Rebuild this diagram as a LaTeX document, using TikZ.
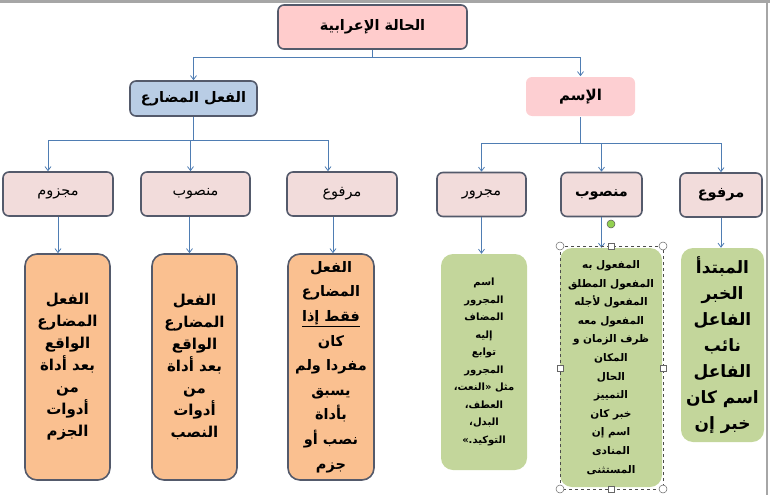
\documentclass[tikz,border=0pt]{standalone}
\usepackage{fontspec}
\setmainfont{DejaVu Sans}
\newfontfamily\ar[Script=Arabic]{DejaVu Sans}
\TeXXeTstate=1
\usetikzlibrary{arrows.meta}
\newcommand\arl[1]{\beginR #1\endR}
\definecolor{topfill}{HTML}{FFCCCC}
\definecolor{bord}{HTML}{545A6B}
\definecolor{bluefill}{HTML}{B9CDE5}
\definecolor{ismfill}{HTML}{FDCFD2}
\definecolor{lvfill}{HTML}{F2DCDB}
\definecolor{orfill}{HTML}{FAC090}
\definecolor{grfill}{HTML}{C3D69B}
\definecolor{conn}{HTML}{4F7DB3}
\definecolor{framecol}{HTML}{A6A6A6}
\definecolor{handlegreen}{HTML}{92D050}
\begin{document}
\begin{tikzpicture}[x=1pt,y=-1pt,
  box/.style={rounded corners=6pt, line width=1.6pt, draw=bord, inner sep=0pt, align=center},
  lvl/.style={box, fill=lvfill, minimum height=44pt, font=\ar\fontsize{14.5}{17}\selectfont},
  lvlb/.style={lvl, font=\ar\bfseries\fontsize{14.5}{17}\selectfont},
  orb/.style={rounded corners=12pt, line width=1.6pt, draw=bord, fill=orfill, inner sep=0pt, align=center, minimum width=85pt, minimum height=226pt},
  grb/.style={rounded corners=12pt, fill=grfill, inner sep=0pt, align=center},
  arr/.style={draw=conn, line width=0.8pt, -{Straight Barb[length=4pt,width=6pt]}},
  ln/.style={draw=conn, line width=0.8pt},
  hcirc/.style={draw=gray!80!black, fill=white, line width=0.5pt},
  hsq/.style={draw=gray!80!black, fill=white, line width=0.5pt}
]
\useasboundingbox (0,0) rectangle (770,495);
\fill[framecol] (0,0) rectangle (770,3.5);
\fill[framecol] (765.5,0) rectangle (768,495);

% top level
\node[box, fill=topfill, minimum width=189pt, minimum height=44pt, font=\ar\bfseries\fontsize{14.5}{18}\selectfont] (top) at (372.5,27) {\arl{الحالة الإعرابية}};
\node[box, fill=bluefill, minimum width=127pt, minimum height=35pt, font=\ar\bfseries\fontsize{14.5}{17}\selectfont] (fiil) at (193.5,98.5) {\arl{الفعل المضارع}};
\node[box, draw=none, fill=ismfill, minimum width=109pt, minimum height=39pt, font=\ar\bfseries\fontsize{15}{17}\selectfont] (ism) at (580.5,96.5) {\arl{الإسم}};

% level 2
\node[lvl, minimum width=110pt] (m1) at (58,194) {\arl{مجزوم}};
\node[lvl, minimum width=109pt] (m2) at (195.5,194) {\arl{منصوب}};
\node[lvl, minimum width=110pt] (m3) at (342,194) {\arl{مرفوع}};
\node[lvl, minimum width=89pt] (r1) at (481.5,194.5) {\arl{مجرور}};
\node[lvlb, minimum width=81pt] (r2) at (601.5,194.5) {\arl{منصوب}};
\node[lvlb, minimum width=82pt] (r3) at (721,195) {\arl{مرفوع}};

% level 3 orange
\node[orb, font=\ar\bfseries\fontsize{15}{22}\selectfont] (o1) at (67.5,367) {\arl{الفعل}\\\arl{المضارع}\\\arl{الواقع}\\\arl{بعد أداة}\\\arl{من}\\\arl{أدوات}\\\arl{الجزم}};
\node[orb, font=\ar\bfseries\fontsize{15}{22}\selectfont] (o2) at (194.5,367) {\arl{الفعل}\\\arl{المضارع}\\\arl{الواقع}\\\arl{بعد أداة}\\\arl{من}\\\arl{أدوات}\\\arl{النصب}};
\node[orb, minimum width=86pt, font=\ar\bfseries\fontsize{14.5}{24.6}\selectfont] (o3) at (331,367) {\arl{الفعل}\\\arl{المضارع}\\\underline{\arl{فقط إذا}}\\\arl{كان}\\\arl{مفردا ولم}\\\arl{يسبق}\\\arl{بأداة}\\\arl{نصب أو}\\\arl{جزم}};

% level 3 green
\node[grb, minimum width=86pt, minimum height=216pt, font=\ar\bfseries\fontsize{10}{17.5}\selectfont] (g1) at (484,362) {\arl{اسم}\\\arl{المجرور}\\\arl{المضاف}\\\arl{إليه}\\\arl{توابع}\\\arl{المجرور}\\\arl{مثل «النعت،}\\\arl{العطف،}\\\arl{البدل،}\\\arl{التوكيد.»}};
\node[grb, minimum width=102pt, minimum height=239pt, font=\ar\bfseries\fontsize{10.5}{18.6}\selectfont] (g2) at (611,367.5) {\arl{المفعول به}\\\arl{المفعول المطلق}\\\arl{المفعول لأجله}\\\arl{المفعول معه}\\\arl{ظرف الزمان و}\\\arl{المكان}\\\arl{الحال}\\\arl{التمييز}\\\arl{خبر كان}\\\arl{اسم إن}\\\arl{المنادى}\\\arl{المستثنى}};
\node[grb, minimum width=83pt, minimum height=194pt, font=\ar\bfseries\fontsize{17}{26}\selectfont] (g3) at (722.5,345) {\arl{المبتدأ}\\\arl{الخبر}\\\arl{الفاعل}\\\arl{نائب}\\\arl{الفاعل}\\\arl{اسم كان}\\\arl{خبر إن}};

% connectors top
\coordinate (j0) at (372.5,57);
\draw[ln] (top.south) -- (j0);
\draw[arr] (j0) -| (fiil.north);
\draw[arr] (j0) -| (ism.north);

% left branch
\coordinate (j1) at (193.5,140);
\draw[ln] (fiil.south) -- (j1);
\coordinate (m1t) at ([xshift=-10pt]m1.north);
\coordinate (m2t) at ([xshift=-5pt]m2.north);
\coordinate (m3t) at ([xshift=-14pt]m3.north);
\draw[arr] (j1) -| (m1t);
\draw[arr] (j1) -| (m2t);
\draw[arr] (j1) -| (m3t);

% right branch
\coordinate (j2) at (580.5,143);
\draw[ln] (ism.south) -- (j2);
\draw[arr] (j2) -| (r1.north);
\draw[arr] (j2) -| (r2.north);
\draw[arr] (j2) -| (r3.north);

% to level 3
\coordinate (m2b) at ([xshift=-6pt]m2.south);
\coordinate (m3b) at ([xshift=-9pt]m3.south);
\draw[arr] (m1.south) -- (m1.south |- o1.north);
\draw[arr] (m2b) -- (m2b |- o2.north);
\draw[arr] (m3b) -- (m3b |- o3.north);
\draw[arr] (r1.south) -- (r1.south |- g1.north);
\draw[arr] (r2.south) -- (r2.south |- g2.north);
\draw[arr] (r3.south) -- (r3.south |- g3.north);

% selection frame around g2
\draw[dashed, line width=0.5pt, draw=black!70] (560,246) rectangle (663,489);
\foreach \p in {(560,246),(663,246),(560,489),(663,489)} \draw[hcirc] \p circle (4);
\foreach \p in {(611.5,246),(611.5,489),(560,368),(663,368)} \draw[hsq] \p ++(-3,-3) rectangle ++(6,6);
\draw[draw=gray!70!black, fill=handlegreen, line width=0.5pt] (611,224) circle (4);
\end{tikzpicture}
\end{document}
